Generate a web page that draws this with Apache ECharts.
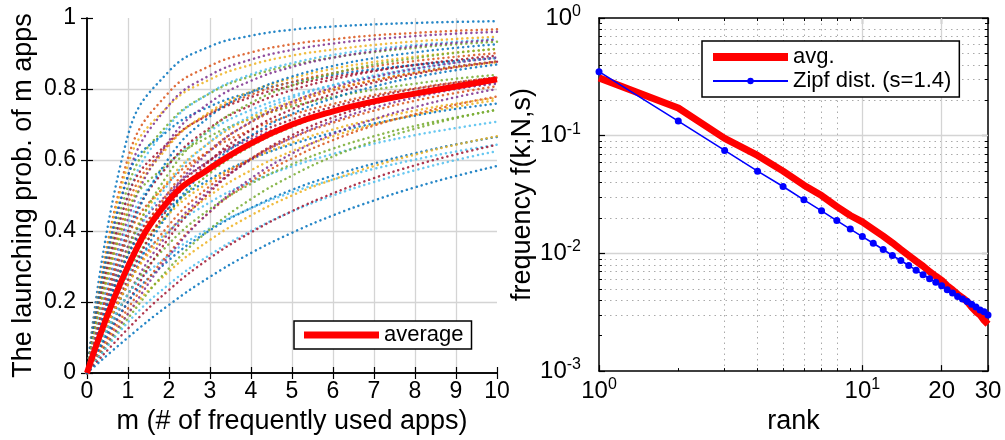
<!DOCTYPE html>
<html>
<head>
<meta charset="utf-8">
<script src="https://cdn.jsdelivr.net/npm/echarts@6/dist/echarts.min.js"></script>
<style>
html, body { margin: 0; padding: 0; background: #fff; }
#chart { width: 1005px; height: 440px; }
</style>
</head>
<body>
<div id="chart"></div>
<script>
// left panel: launching probability of the top-m apps, one dotted curve per user
const mValues = [0, 1, 2, 3, 4, 5, 6, 7, 8, 9, 10];
const userCurves = [
  [0, 0.67, 0.85, 0.92, 0.95, 0.967, 0.976, 0.982, 0.986, 0.989, 0.991],
  [0, 0.606, 0.791, 0.865, 0.903, 0.926, 0.940, 0.951, 0.958, 0.964, 0.968],
  [0, 0.588, 0.754, 0.827, 0.868, 0.894, 0.911, 0.924, 0.934, 0.941, 0.947],
  [0, 0.556, 0.755, 0.839, 0.883, 0.910, 0.928, 0.940, 0.949, 0.956, 0.961],
  [0, 0.526, 0.704, 0.788, 0.836, 0.867, 0.889, 0.904, 0.916, 0.926, 0.933],
  [0, 0.5, 0.697, 0.789, 0.841, 0.873, 0.896, 0.912, 0.924, 0.933, 0.941],
  [0, 0.5, 0.651, 0.729, 0.777, 0.810, 0.834, 0.852, 0.867, 0.878, 0.888],
  [0, 0.556, 0.685, 0.751, 0.791, 0.819, 0.840, 0.856, 0.868, 0.879, 0.887],
  [0, 0.476, 0.645, 0.732, 0.784, 0.820, 0.845, 0.864, 0.879, 0.891, 0.901],
  [0, 0.455, 0.641, 0.736, 0.793, 0.830, 0.857, 0.876, 0.891, 0.903, 0.913],
  [0, 0.435, 0.654, 0.762, 0.823, 0.862, 0.888, 0.906, 0.920, 0.930, 0.939],
  [0, 0.455, 0.592, 0.667, 0.716, 0.751, 0.777, 0.798, 0.815, 0.829, 0.840],
  [0, 0.417, 0.588, 0.682, 0.741, 0.781, 0.811, 0.833, 0.851, 0.865, 0.877],
  [0, 0.4, 0.588, 0.691, 0.754, 0.797, 0.827, 0.850, 0.868, 0.882, 0.894],
  [0, 0.385, 0.606, 0.723, 0.791, 0.835, 0.865, 0.887, 0.903, 0.916, 0.926],
  [0, 0.385, 0.538, 0.627, 0.685, 0.727, 0.758, 0.783, 0.802, 0.819, 0.832],
  [0, 0.357, 0.544, 0.650, 0.719, 0.765, 0.800, 0.825, 0.845, 0.862, 0.875],
  [0, 0.357, 0.509, 0.599, 0.659, 0.703, 0.736, 0.762, 0.783, 0.801, 0.815],
  [0, 0.345, 0.564, 0.687, 0.761, 0.810, 0.844, 0.869, 0.887, 0.902, 0.913],
  [0, 0.333, 0.535, 0.651, 0.725, 0.775, 0.811, 0.838, 0.858, 0.875, 0.888],
  [0, 0.333, 0.5, 0.6, 0.667, 0.714, 0.75, 0.778, 0.8, 0.818, 0.833],
  [0, 0.333, 0.465, 0.546, 0.602, 0.644, 0.677, 0.703, 0.725, 0.744, 0.759],
  [0, 0.313, 0.511, 0.629, 0.706, 0.758, 0.796, 0.824, 0.846, 0.864, 0.878],
  [0, 0.303, 0.448, 0.539, 0.602, 0.649, 0.686, 0.715, 0.739, 0.759, 0.775],
  [0, 0.286, 0.496, 0.625, 0.708, 0.764, 0.804, 0.834, 0.857, 0.874, 0.889],
  [0, 0.278, 0.452, 0.563, 0.639, 0.693, 0.734, 0.766, 0.791, 0.812, 0.829],
  [0, 0.278, 0.401, 0.481, 0.538, 0.582, 0.617, 0.646, 0.670, 0.690, 0.708],
  [0, 0.263, 0.468, 0.598, 0.684, 0.743, 0.786, 0.818, 0.842, 0.861, 0.877],
  [0, 0.25, 0.451, 0.582, 0.669, 0.730, 0.774, 0.807, 0.833, 0.853, 0.869],
  [0, 0.25, 0.417, 0.527, 0.605, 0.662, 0.705, 0.739, 0.767, 0.789, 0.808],
  [0, 0.25, 0.4, 0.5, 0.571, 0.625, 0.667, 0.7, 0.727, 0.75, 0.769],
  [0, 0.222, 0.396, 0.516, 0.601, 0.663, 0.710, 0.747, 0.776, 0.800, 0.819],
  [0, 0.222, 0.364, 0.462, 0.533, 0.588, 0.632, 0.667, 0.696, 0.72, 0.741],
  [0, 0.222, 0.332, 0.408, 0.464, 0.509, 0.545, 0.575, 0.601, 0.624, 0.643],
  [0, 0.2, 0.381, 0.510, 0.603, 0.670, 0.720, 0.758, 0.789, 0.813, 0.833],
  [0, 0.2, 0.318, 0.402, 0.465, 0.516, 0.556, 0.590, 0.619, 0.644, 0.665],
  [0, 0.182, 0.338, 0.454, 0.540, 0.605, 0.656, 0.697, 0.729, 0.756, 0.779],
  [0, 0.167, 0.286, 0.375, 0.444, 0.5, 0.545, 0.583, 0.615, 0.643, 0.667],
  [0, 0.167, 0.330, 0.455, 0.548, 0.618, 0.673, 0.715, 0.749, 0.777, 0.800],
  [0, 0.154, 0.295, 0.405, 0.490, 0.556, 0.610, 0.653, 0.688, 0.718, 0.742],
  [0, 0.143, 0.25, 0.333, 0.4, 0.455, 0.5, 0.538, 0.571, 0.6, 0.625],
  [0, 0.125, 0.234, 0.324, 0.396, 0.456, 0.506, 0.549, 0.585, 0.616, 0.643],
  [0, 0.1, 0.192, 0.271, 0.338, 0.395, 0.444, 0.486, 0.523, 0.555, 0.583]
];
const averageCurve = [0, 0.30, 0.487, 0.577, 0.647, 0.70, 0.737, 0.765, 0.787, 0.807, 0.827];

// right panel: app rank vs frequency (log-log)
const ranks = [1, 2, 3, 4, 5, 6, 7, 8, 9, 10, 11, 12, 13, 14, 15, 16, 17, 18, 19, 20, 21, 22, 23, 24, 25, 26, 27, 28, 29, 30];
const avgFreq = [0.31, 0.172, 0.095, 0.068, 0.050, 0.038, 0.031, 0.025, 0.021, 0.0185, 0.016, 0.014, 0.0123, 0.0108, 0.0096,
  0.0086, 0.0078, 0.0070, 0.0064, 0.0059, 0.0053, 0.0049, 0.0045, 0.0042, 0.0039, 0.0035, 0.0032, 0.0030, 0.0027, 0.0025];
const zipfFreq = [0.350, 0.133, 0.075, 0.050, 0.037, 0.0285, 0.0230, 0.0190, 0.0161, 0.0139, 0.0122, 0.0108, 0.0096, 0.0087, 0.0079,
  0.0072, 0.0066, 0.0061, 0.0057, 0.0053, 0.0049, 0.0046, 0.0043, 0.0041, 0.0039, 0.0037, 0.0035, 0.0033, 0.0032, 0.0030];

const rankMajorTicks = [1, 10, 20, 30];
const rankMinorTicks = [2, 3, 4, 5, 6, 7, 8, 9];
const freqMinorTicks = [0.002, 0.003, 0.004, 0.005, 0.006, 0.007, 0.008, 0.009,
  0.02, 0.03, 0.04, 0.05, 0.06, 0.07, 0.08, 0.09,
  0.2, 0.3, 0.4, 0.5, 0.6, 0.7, 0.8, 0.9];

const matlabColors = ['#0072BD', '#D95319', '#EDB120', '#7E2F8E', '#77AC30', '#4DBEEE', '#A2142F'];
const FONT = "'Liberation Sans', Arial, Helvetica, sans-serif";

var chart = echarts.init(document.getElementById('chart'), null, { renderer: 'canvas' });

var supRich = {
  b: { fontSize: 24, lineHeight: 30, fontFamily: FONT, color: '#000' },
  s: { fontSize: 16, fontFamily: FONT, color: '#000', padding: [0, 0, 13, 0] }
};
function expLabel(v) {
  var e = Math.round(Math.log10(v));
  if (Math.abs(v - Math.pow(10, e)) < 1e-9 * Math.max(1, v)) {
    return '{b|10}{s|' + e + '}';
  }
  return '{b|' + v + '}';
}

var tickStyle = { show: true, inside: true, length: 6, lineStyle: { color: '#000', width: 1.2 } };
var minorTickStyle = { show: true, inside: true, length: 3, lineStyle: { color: '#000', width: 1 } };
var boxLine = { show: true, lineStyle: { color: '#000', width: 1.5 } };
var majorGrid = { show: true, showMinLine: false, showMaxLine: false, lineStyle: { color: '#d4d4d4', width: 1.3 } };
var minorGrid = { show: true, showMinLine: false, showMaxLine: false, lineStyle: { color: '#aaa', width: 1, type: [1.5, 4] } };

// log axis helper for the right panel overlays
function rankAxis(extra) {
  return Object.assign({
    type: 'log', logBase: 10, gridIndex: 1, min: 1, max: 30,
    axisLine: { show: false }, axisLabel: { show: false }, splitLine: { show: false }
  }, extra);
}
function freqAxis(extra) {
  return Object.assign({
    type: 'log', logBase: 10, gridIndex: 1, min: 0.001, max: 1,
    axisLine: { show: false }, axisLabel: { show: false }, splitLine: { show: false }
  }, extra);
}

var series = [];
userCurves.forEach(function (c, i) {
  series.push({
    type: 'line',
    xAxisIndex: 0, yAxisIndex: 0,
    data: mValues.map(function (m, j) { return [m, c[j]]; }),
    showSymbol: false, symbol: 'none',
    smooth: 0.45,
    silent: true, z: 2,
    lineStyle: { color: matlabColors[i % matlabColors.length], width: 2.5, type: [0.1, 5], cap: 'round', opacity: 0.85 }
  });
});
series.push({
  name: 'average', type: 'line',
  xAxisIndex: 0, yAxisIndex: 0,
  data: mValues.map(function (m, j) { return [m, averageCurve[j]]; }),
  showSymbol: false, symbol: 'none', smooth: 0.45,
  z: 4,
  itemStyle: { color: '#ff0000' },
  lineStyle: { color: '#ff0000', width: 6 }
});
series.push({
  name: 'avg.', type: 'line',
  xAxisIndex: 2, yAxisIndex: 2,
  data: ranks.map(function (r, j) { return [r, avgFreq[j]]; }),
  showSymbol: false, symbol: 'none',
  z: 3,
  itemStyle: { color: '#ff0000' },
  lineStyle: { color: '#ff0000', width: 7 }
});
series.push({
  name: 'Zipf dist. (s=1.4)', type: 'line',
  xAxisIndex: 2, yAxisIndex: 2,
  data: ranks.map(function (r, j) { return [r, zipfFreq[j]]; }),
  symbol: 'circle', symbolSize: 7, showSymbol: true,
  z: 4,
  itemStyle: { color: '#0000ff' },
  lineStyle: { color: '#0000ff', width: 1.6 }
});

var option = {
  animation: false,
  backgroundColor: '#fff',
  textStyle: { fontFamily: FONT, color: '#000' },
  grid: [
    { left: 87, top: 18, width: 410, height: 355 },
    { left: 599, top: 18, width: 389, height: 355 }
  ],
  legend: [
    {
      data: [{ name: 'average', icon: 'rect' }], left: 294, top: 321, orient: 'horizontal',
      itemWidth: 75, itemHeight: 7, padding: [3, 8, 3, 10],
      borderColor: '#000', borderWidth: 1.5, backgroundColor: '#fff', selectedMode: false,
      textStyle: { fontSize: 22, lineHeight: 22, color: '#000', fontFamily: FONT }
    },
    {
      data: [{ name: 'avg.', icon: 'rect' }, { name: 'Zipf dist. (s=1.4)' }], left: 702, top: 41, orient: 'vertical',
      itemWidth: 75, itemHeight: 8, itemGap: 2, padding: [5, 8, 5, 10],
      borderColor: '#000', borderWidth: 1.5, backgroundColor: '#fff', selectedMode: false,
      textStyle: { fontSize: 22, lineHeight: 19, color: '#000', fontFamily: FONT }
    }
  ],
  xAxis: [
    {
      type: 'value', gridIndex: 0, min: 0, max: 10, interval: 1, position: 'bottom',
      name: 'm (# of frequently used apps)', nameLocation: 'middle', nameGap: 30,
      nameTextStyle: { fontSize: 27, color: '#000', fontFamily: FONT },
      axisLine: boxLine, axisTick: tickStyle, splitLine: majorGrid,
      axisLabel: { fontSize: 23, color: '#000', margin: 7, fontFamily: FONT }
    },
    {
      type: 'value', gridIndex: 0, min: 0, max: 10, interval: 1, position: 'top',
      axisLine: boxLine, axisTick: tickStyle, splitLine: { show: false }, axisLabel: { show: false }
    },
    rankAxis({
      position: 'bottom', z: 3,
      name: 'rank', nameLocation: 'middle', nameGap: 35,
      nameTextStyle: { fontSize: 27, color: '#000', fontFamily: FONT },
      axisLine: boxLine,
      axisTick: Object.assign({ customValues: rankMajorTicks }, tickStyle),
      splitLine: majorGrid,
      axisLabel: { show: true, customValues: rankMajorTicks, formatter: expLabel, rich: supRich, margin: 5 }
    }),
    rankAxis({ position: 'bottom', axisTick: Object.assign({ customValues: rankMinorTicks }, minorTickStyle), splitLine: minorGrid }),
    rankAxis({ position: 'top', axisLine: boxLine, axisTick: Object.assign({ customValues: rankMajorTicks }, tickStyle) }),
    rankAxis({ position: 'top', axisTick: Object.assign({ customValues: rankMinorTicks }, minorTickStyle) })
  ],
  yAxis: [
    {
      type: 'value', gridIndex: 0, min: 0, max: 1, interval: 0.2, position: 'left',
      name: 'The launching prob. of m apps', nameLocation: 'middle', nameGap: 50,
      nameTextStyle: { fontSize: 27, color: '#000', fontFamily: FONT },
      axisLine: boxLine, axisTick: tickStyle, splitLine: majorGrid,
      axisLabel: { fontSize: 23, color: '#000', margin: 11, fontFamily: FONT }
    },
    {
      type: 'value', gridIndex: 0, min: 0, max: 1, interval: 0.2, position: 'right',
      axisLine: boxLine, axisTick: tickStyle, splitLine: { show: false }, axisLabel: { show: false }
    },
    freqAxis({
      position: 'left', z: 3,
      name: 'frequency f(k;N,s)', nameLocation: 'middle', nameGap: 63,
      nameTextStyle: { fontSize: 27, color: '#000', fontFamily: FONT },
      axisLine: boxLine, axisTick: tickStyle, splitLine: majorGrid,
      axisLabel: { show: true, formatter: expLabel, rich: supRich, margin: 18 }
    }),
    freqAxis({ position: 'left', axisTick: Object.assign({ customValues: freqMinorTicks }, minorTickStyle), splitLine: minorGrid }),
    freqAxis({ position: 'right', axisLine: boxLine, axisTick: tickStyle }),
    freqAxis({ position: 'right', axisTick: Object.assign({ customValues: freqMinorTicks }, minorTickStyle) })
  ],
  series: series
};
chart.setOption(option);
</script>
</body>
</html>
